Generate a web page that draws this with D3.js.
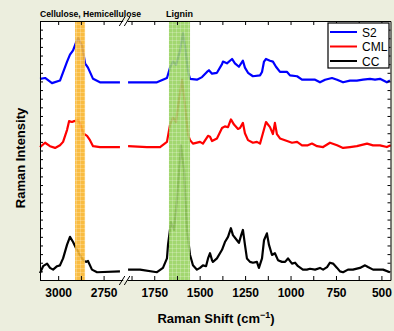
<!DOCTYPE html>
<html>
<head>
<meta charset="utf-8">
<script src="https://cdn.jsdelivr.net/npm/d3@7"></script>
<style>
  html, body { margin: 0; padding: 0; background: #eceede; }
  svg { display: block; }
  text { font-family: "Liberation Sans", Arial, sans-serif; }
</style>
</head>
<body>
<svg id="chart-svg" width="394" height="331"></svg>
<script>
// Raman spectra, stacked (intensity in a.u. incl. vertical offset), [shift cm-1, intensity]
const seriesNames = ["S2", "CML", "CC"]
const seriesColors = ["#0000ff", "#ff0000", "#000000"]

const s2Data = [
  [3100,23.3],[3072,23.4],[3034,22.8],[2990,23.1],[2951,25.3],[2935,26.1],[2918,26.6],[2902,27.5],
  [2890,28.0],[2869,27.2],[2852,25.1],[2836,24.6],[2808,23.3],[2770,22.9],[2715,22.9],[2660,22.9],
  [1894,22.9],[1828,22.9],[1735,22.9],[1680,23.4],[1663,24.6],[1647,25.3],[1630,24.9],[1608,26.6],
  [1592,28.6],[1581,27.2],[1564,24.1],[1553,23.3],[1515,23.2],[1487,23.5],[1460,24.1],[1449,24.3],
  [1432,23.9],[1405,24.0],[1377,25.0],[1372,25.3],[1350,25.1],[1322,25.6],[1306,25.1],[1284,24.7],
  [1262,25.4],[1251,24.6],[1234,24.0],[1207,23.6],[1168,23.7],[1157,24.1],[1146,25.3],[1135,25.6],
  [1113,25.4],[1097,25.3],[1080,24.7],[1058,24.1],[1019,24.1],[1003,23.7],[964,23.6],[937,23.2],
  [893,23.2],[865,23.2],[838,22.9],[810,23.2],[772,23.4],[744,23.2],[711,22.9],[673,23.1],
  [635,23.1],[601,23.2],[563,23.3],[535,23.2],[508,23.3],[470,22.9],[453,23.1]
]

const cmlData = [
  [3100,15.4],[3072,15.9],[3045,15.5],[3017,15.3],[2990,15.6],[2973,16.0],[2951,17.4],[2940,18.4],
  [2924,18.3],[2912,18.4],[2890,18.5],[2880,18.2],[2863,17.0],[2841,16.7],[2825,16.2],[2808,15.5],
  [2770,15.4],[2660,15.4],
  [1894,15.5],[1790,15.4],[1718,15.4],[1680,16.0],[1663,18.0],[1647,18.8],[1630,18.3],[1614,20.9],
  [1597,23.2],[1581,20.3],[1564,16.8],[1553,16.2],[1537,15.8],[1498,16.0],[1482,15.8],[1454,16.7],
  [1443,16.6],[1432,16.1],[1405,16.4],[1377,17.6],[1361,17.8],[1344,17.7],[1328,18.6],[1311,18.0],
  [1289,17.5],[1278,17.6],[1262,18.2],[1251,17.0],[1234,16.2],[1207,15.9],[1185,16.0],[1168,15.8],
  [1152,17.0],[1135,18.3],[1113,17.7],[1097,16.9],[1086,18.2],[1075,16.9],[1058,16.4],[1019,16.1],
  [992,15.9],[964,16.0],[937,15.6],[905,15.6],[882,15.8],[854,15.5],[821,15.4],[783,15.9],
  [744,15.6],[711,15.3],[673,15.4],[635,15.5],[579,15.8],[546,15.6],[508,15.6],[470,15.4],[449,15.6]
]

const ccData = [
  [3100,0.8],[3083,1.6],[3061,1.9],[3045,1.4],[3028,1.2],[3006,1.6],[2990,1.7],[2973,2.5],
  [2951,4.1],[2935,5.0],[2918,4.4],[2902,3.7],[2880,2.9],[2863,2.3],[2847,2.1],[2836,2.2],
  [2814,1.2],[2786,0.9],[2660,1.0],
  [1894,1.2],[1828,1.2],[1735,0.9],[1702,1.4],[1680,2.5],[1674,4.1],[1658,6.7],[1641,5.8],
  [1625,9.3],[1603,15.6],[1586,12.7],[1570,5.8],[1553,2.9],[1537,1.7],[1515,1.2],[1498,1.4],
  [1482,1.7],[1465,1.6],[1454,2.5],[1443,3.1],[1432,2.3],[1427,2.1],[1405,2.5],[1377,3.5],
  [1361,4.4],[1344,5.0],[1328,6.0],[1317,5.2],[1295,4.6],[1284,4.3],[1273,5.1],[1262,5.8],
  [1251,4.1],[1240,2.5],[1223,2.1],[1207,2.0],[1185,2.1],[1174,1.4],[1157,2.5],[1146,4.6],
  [1130,5.4],[1119,4.1],[1102,2.9],[1086,3.1],[1069,2.3],[1047,2.1],[1030,2.1],[1014,2.5],
  [992,1.9],[975,2.0],[959,1.6],[932,1.2],[910,1.2],[893,1.3],[865,1.2],[838,1.4],
  [821,1.2],[799,1.5],[783,2.0],[766,1.9],[744,1.4],[728,1.0],[711,0.9],[684,1.2],
  [657,1.2],[618,1.4],[590,1.7],[574,1.5],[546,1.2],[519,1.2],[491,1.2],[453,0.9]
]

const leftDomain = [3100, 2645]
const rightDomain = [1900, 450]
const leftTicks = [3000, 2875, 2750]
const rightTicks = [1875, 1750, 1625, 1500, 1375, 1250, 1125, 1000, 875, 750, 625, 500]
const bands = [
  {from: 2907, to: 2852, color: "#f8b52c", label: "Cellulose, Hemicellulose"},
  {from: 1669, to: 1553, color: "#98d260", label: "Lignin"}
]

const W = 394, H = 331
const plot = {x0: 40, x1: 390.5, y0: 21, y1: 280, gap: 4.3}

const svg = d3.select("#chart-svg")

const xLeft = d3.scaleLinear().domain(leftDomain)
  .range([plot.x0, plot.x0 + (leftDomain[0] - leftDomain[1]) * 0.1817])
const xRight = d3.scaleLinear().domain(rightDomain)
  .range([xLeft.range()[1] + plot.gap, plot.x1])
const xPos = s => s > 2200 ? xLeft(s) : xRight(s)
const y = d3.scaleLinear().domain([0, 30]).range([plot.y1, plot.y0])

svg.append("rect")
  .attr("x", plot.x0).attr("y", plot.y0)
  .attr("width", plot.x1 - plot.x0).attr("height", plot.y1 - plot.y0)
  .attr("fill", "#fff")

// spectra
const line = d3.line().x(d => xPos(d[0])).y(d => y(d[1]))
const allSeries = [s2Data, cmlData, ccData]
allSeries.forEach((data, i) => {
  const parts = [data.filter(d => d[0] > 2200), data.filter(d => d[0] <= 2200)]
  parts.forEach(p => {
    svg.append("path")
      .datum(p)
      .attr("fill", "none")
      .attr("stroke", seriesColors[i])
      .attr("stroke-width", 2.2)
      .attr("stroke-linejoin", "round")
      .attr("d", line)
  })
})

// highlighted bands, drawn over the traces
const defs = svg.append("defs")
bands.forEach((b, i) => {
  const pat = defs.append("pattern").attr("id", "band" + i)
    .attr("patternUnits", "userSpaceOnUse").attr("width", 4).attr("height", 4)
  pat.append("rect").attr("width", 4).attr("height", 4).attr("fill", b.color)
  pat.append("path").attr("d", "M0,0.5H4M0.5,0V4")
    .attr("stroke", "#fff").attr("stroke-opacity", 0.22).attr("stroke-width", 1)
  const x0 = xPos(b.from), x1 = xPos(b.to)
  svg.append("rect")
    .attr("x", x0).attr("y", plot.y0)
    .attr("width", x1 - x0).attr("height", plot.y1 - plot.y0)
    .attr("fill", "url(#band" + i + ")")
    .attr("opacity", 0.9)
})

// axes
const fmt = d => d % 250 === 0 ? d : ""
const axisFont = g => g.selectAll("text")
  .style("font-family", "'Liberation Sans', Arial, sans-serif")
  .style("font-size", "12px").style("font-weight", "bold").attr("fill", "#000")

;[[xLeft, leftTicks], [xRight, rightTicks]].forEach(([sc, tv]) => {
  svg.append("g")
    .attr("transform", `translate(0,${plot.y1})`)
    .call(d3.axisBottom(sc).tickValues(tv).tickSize(-4).tickSizeOuter(0).tickPadding(8).tickFormat(fmt))
    .call(axisFont)
  svg.append("g")
    .attr("transform", `translate(0,${plot.y0})`)
    .call(d3.axisTop(sc).tickValues(tv).tickSize(-4).tickSizeOuter(0).tickFormat(""))
})
svg.append("g")
  .attr("transform", `translate(${plot.x0},0)`)
  .call(d3.axisLeft(y).ticks(30).tickSize(-3).tickSizeOuter(0).tickFormat(""))
svg.append("g")
  .attr("transform", `translate(${plot.x1},0)`)
  .call(d3.axisRight(y).ticks(30).tickSize(-3).tickSizeOuter(0).tickFormat(""))
svg.selectAll(".domain, .tick line").attr("stroke", "#000").attr("stroke-width", 1)

// axis break marks
const bx = (xLeft.range()[1] + xRight.range()[0]) / 2
;[plot.y0, plot.y1].forEach(yy => {
  [-2.5, 2.5].forEach(dx => {
    svg.append("line")
      .attr("x1", bx + dx - 3).attr("y1", yy + 5)
      .attr("x2", bx + dx + 2.5).attr("y2", yy - 4)
      .attr("stroke", "#000").attr("stroke-width", 1)
  })
})

// band labels above the frame
svg.append("text")
  .attr("x", plot.x0).attr("y", 17)
  .style("font-size", "9px").style("font-weight", "bold")
  .attr("textLength", 101).attr("lengthAdjust", "spacingAndGlyphs")
  .text(bands[0].label)
svg.append("text")
  .attr("x", (xPos(bands[1].from) + xPos(bands[1].to)) / 2).attr("y", 17)
  .attr("text-anchor", "middle")
  .style("font-size", "9px").style("font-weight", "bold")
  .text(bands[1].label)

// axis titles
svg.append("text")
  .attr("transform", "translate(25,158) rotate(-90)")
  .attr("text-anchor", "middle")
  .style("font-size", "13px").style("font-weight", "bold")
  .text("Raman Intensity")

const xt = svg.append("text")
  .attr("x", 216).attr("y", 323)
  .attr("text-anchor", "middle")
  .style("font-size", "13px").style("font-weight", "bold")
xt.append("tspan").text("Raman Shift (cm")
xt.append("tspan").attr("dy", -5).style("font-size", "9px").text("\u22121")
xt.append("tspan").attr("dy", 5).text(")")

// legend
const lg = svg.append("g").attr("transform", "translate(328,23)")
lg.append("rect").attr("width", 61).attr("height", 45)
  .attr("fill", "#fff").attr("stroke", "#000").attr("stroke-width", 1.2)
seriesNames.forEach((n, i) => {
  const yy = 9 + i * 14.5
  lg.append("line").attr("x1", 2).attr("x2", 29).attr("y1", yy).attr("y2", yy)
    .attr("stroke", seriesColors[i]).attr("stroke-width", 2)
  lg.append("text").attr("x", 34).attr("y", yy + 4.5)
    .style("font-size", "12px").text(n)
})
</script>
</body>
</html>
